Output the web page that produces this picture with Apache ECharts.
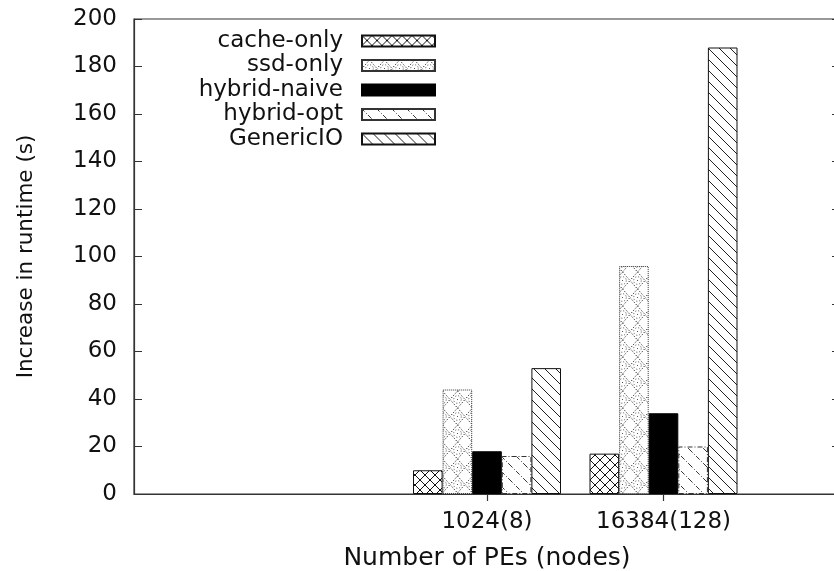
<!DOCTYPE html>
<html>
<head>
<meta charset="utf-8">
<script src="https://cdn.jsdelivr.net/npm/echarts@6/dist/echarts.min.js"></script>
<style>
  html, body { margin: 0; padding: 0; background: #fff; }
  #main { width: 834px; height: 571px; }
</style>
</head>
<body>
<div id="main"></div>
<script>
// categories (two empty slots on the left, one on the right, like the gnuplot x range)
var categories = ['', '', '1024(8)', '16384(128)', ''];
var seriesNames = ['cache-only', 'ssd-only', 'hybrid-naive', 'hybrid-opt', 'GenericIO'];
var cacheOnly   = [null, null, 10, 17, null];
var ssdOnly     = [null, null, 44, 96, null];
var hybridNaive = [null, null, 18, 34, null];
var hybridOpt   = [null, null, 16, 20, null];
var genericIO   = [null, null, 53, 188, null];
var yTicks = [0, 20, 40, 60, 80, 100, 120, 140, 160, 180, 200];

function tile(w, h, draw) {
  var c = document.createElement('canvas');
  c.width = w; c.height = h;
  var ctx = c.getContext('2d');
  ctx.fillStyle = '#fff';
  ctx.fillRect(0, 0, w, h);
  draw(ctx, w, h);
  return { image: c, repeat: 'repeat' };
}

// crosshatch
var patCross = tile(10, 10, function (ctx, w, h) {
  ctx.strokeStyle = '#111';
  ctx.lineWidth = 1;
  ctx.beginPath();
  ctx.moveTo(0, 0); ctx.lineTo(w, h);
  ctx.moveTo(w, 0); ctx.lineTo(0, h);
  ctx.stroke();
});

// dotted diamonds with little rings
var patSsd = tile(15, 17, function (ctx, w, h) {
  ctx.strokeStyle = '#222';
  ctx.lineWidth = 1;
  ctx.setLineDash([1.2, 1.8]);
  ctx.beginPath();
  ctx.moveTo(w / 2, 0); ctx.lineTo(w, h / 2); ctx.lineTo(w / 2, h); ctx.lineTo(0, h / 2); ctx.closePath();
  ctx.stroke();
  ctx.strokeStyle = '#666';
  ctx.beginPath();
  ctx.arc(w / 2, h / 2, 3.8, 0, Math.PI * 2);
  ctx.stroke();
  ctx.setLineDash([]);
  ctx.fillStyle = '#555';
  ctx.fillRect(w / 2 - 0.5, h / 2 - 0.5, 1, 1);
});

// dash-dot back diagonals
var patOpt = tile(15, 15, function (ctx, w, h) {
  ctx.strokeStyle = '#333';
  ctx.lineWidth = 1;
  ctx.setLineDash([5, 2, 1, 2]);
  ctx.beginPath();
  ctx.moveTo(-1, -1); ctx.lineTo(w + 1, h + 1);
  ctx.stroke();
});

// back diagonals
var patGen = tile(11, 11, function (ctx, w, h) {
  ctx.strokeStyle = '#222';
  ctx.lineWidth = 1;
  ctx.beginPath();
  ctx.moveTo(-1, -1); ctx.lineTo(w + 1, h + 1);
  ctx.stroke();
});

var font = '"DejaVu Sans", "Liberation Sans", Arial, sans-serif';

function bar(name, data, fill, border, borderType) {
  return {
    name: name,
    type: 'bar',
    data: data,
    barWidth: 29.6,
    barGap: '0%',
    itemStyle: {
      color: fill,
      borderColor: border,
      borderWidth: 1,
      borderType: borderType || 'solid'
    }
  };
}

var myChart = echarts.init(document.getElementById('main'));
var option = {
  backgroundColor: '#fff',
  animation: false,
  textStyle: { fontFamily: font },
  grid: {
    left: 134, top: 19, width: 706, height: 475,
    show: true, borderColor: '#333', borderWidth: 1.2,
    containLabel: false,
    outerBoundsMode: 'none'
  },
  legend: {
    data: seriesNames,
    orient: 'vertical',
    align: 'right',
    right: 393,
    top: 24,
    icon: 'rect',
    itemWidth: 73,
    itemHeight: 11,
    itemGap: 0.5,
    textStyle: { fontSize: 23, color: '#111', fontFamily: font, lineHeight: 24, padding: [0, 14, 0, 0] }
  },
  xAxis: [{
    type: 'category',
    data: categories,
    boundaryGap: false,
    position: 'bottom',
    name: 'Number of PEs (nodes)',
    nameLocation: 'middle',
    nameGap: 52,
    nameTextStyle: { fontSize: 25, color: '#111', fontFamily: font },
    axisLine: { lineStyle: { color: '#333', width: 1.2 } },
    axisTick: { show: false },
    axisLabel: { fontSize: 23, color: '#111', margin: 17, interval: 0 },
    splitLine: { show: false }
  }, {
    type: 'category',
    data: categories,
    boundaryGap: false,
    position: 'top',
    axisLine: { show: false },
    axisTick: {
      show: true, inside: true, length: 7,
      interval: function (idx) { return idx === 2 || idx === 3; },
      lineStyle: { color: '#333', width: 1.2 }
    },
    axisLabel: { show: false },
    splitLine: { show: false }
  }],
  yAxis: [{
    type: 'value',
    min: yTicks[0],
    max: yTicks[yTicks.length - 1],
    interval: yTicks[1] - yTicks[0],
    name: 'Increase in runtime (s)',
    nameLocation: 'middle',
    nameRotate: 90,
    nameGap: 97,
    nameTextStyle: { fontSize: 21.5, color: '#111', fontFamily: font },
    axisLine: { show: true, lineStyle: { color: '#333', width: 1.2 } },
    axisTick: { show: true, inside: true, length: 8, lineStyle: { color: '#333', width: 1 } },
    axisLabel: { fontSize: 23, color: '#111', margin: 17 },
    splitLine: { show: false }
  }, {
    type: 'value',
    position: 'right',
    min: yTicks[0],
    max: yTicks[yTicks.length - 1],
    interval: yTicks[1] - yTicks[0],
    axisLine: { show: false },
    axisTick: { show: true, inside: true, length: 8, lineStyle: { color: '#333', width: 1 } },
    axisLabel: { show: false },
    splitLine: { show: false }
  }],
  series: [
    bar('cache-only', cacheOnly, patCross, '#111'),
    bar('ssd-only', ssdOnly, patSsd, '#333', 'dotted'),
    bar('hybrid-naive', hybridNaive, '#000', '#000'),
    bar('hybrid-opt', hybridOpt, patOpt, '#333', [5, 2, 1, 2]),
    bar('GenericIO', genericIO, patGen, '#111')
  ]
};
myChart.setOption(option);
</script>
</body>
</html>
